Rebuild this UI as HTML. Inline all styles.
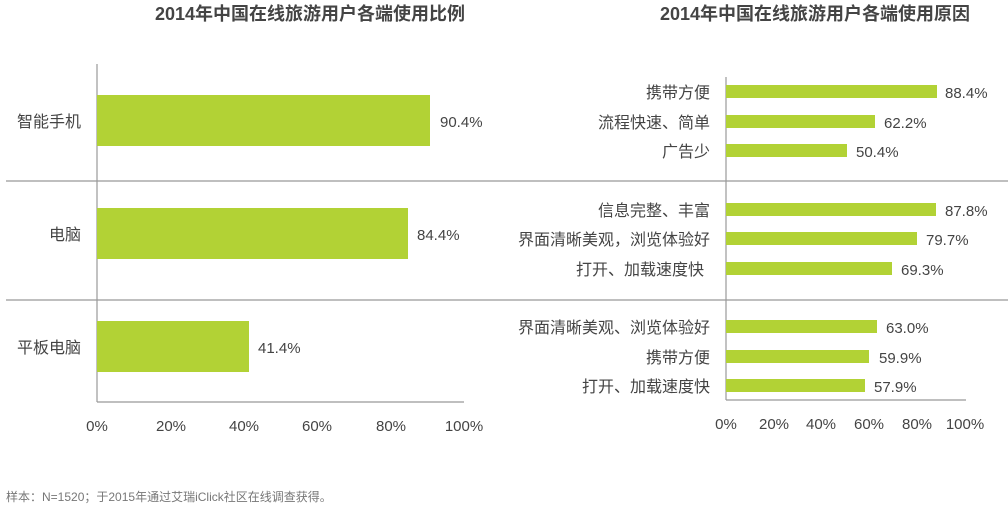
<!DOCTYPE html>
<html><head><meta charset="utf-8"><style>
body{margin:0;background:#fff;}
svg text{font-family:"Liberation Sans","Noto Sans CJK SC",sans-serif;fill:#444;}
</style></head><body>
<svg width="1008" height="511" viewBox="0 0 1008 511" xmlns="http://www.w3.org/2000/svg">
<text x="310" y="20" font-size="18" font-weight="bold" text-anchor="middle">2014年中国在线旅游用户各端使用比例</text>
<text x="815" y="20" font-size="18" font-weight="bold" text-anchor="middle">2014年中国在线旅游用户各端使用原因</text>
<g stroke="#999" stroke-width="1.2">
<line x1="6" y1="181" x2="1008" y2="181"/>
<line x1="6" y1="300" x2="1008" y2="300"/>
<line x1="97" y1="64" x2="97" y2="402"/>
<line x1="97" y1="402" x2="464" y2="402"/>
<line x1="726" y1="77" x2="726" y2="400"/>
<line x1="726" y1="400" x2="966" y2="400"/>
</g>
<g fill="#b2d235">
<rect x="97" y="95" width="333" height="51"/>
<rect x="97" y="208" width="311" height="51"/>
<rect x="97" y="321" width="152" height="51"/>
<rect x="726" y="85" width="211" height="13"/>
<rect x="726" y="115" width="149" height="13"/>
<rect x="726" y="144" width="121" height="13"/>
<rect x="726" y="203" width="210" height="13"/>
<rect x="726" y="232" width="191" height="13"/>
<rect x="726" y="262" width="166" height="13"/>
<rect x="726" y="320" width="151" height="13"/>
<rect x="726" y="350" width="143" height="13"/>
<rect x="726" y="379" width="139" height="13"/>
</g>
<g font-size="16" text-anchor="end">
<text x="81" y="127">智能手机</text>
<text x="81" y="240">电脑</text>
<text x="81" y="353">平板电脑</text>
</g>
<g font-size="15">
<text x="440" y="127">90.4%</text>
<text x="417" y="240">84.4%</text>
<text x="258" y="353">41.4%</text>
</g>
<g font-size="15" text-anchor="middle">
<text x="97" y="431">0%</text><text x="171" y="431">20%</text><text x="244" y="431">40%</text>
<text x="317" y="431">60%</text><text x="391" y="431">80%</text><text x="464" y="431">100%</text>
<text x="726" y="429">0%</text><text x="774" y="429">20%</text><text x="821" y="429">40%</text>
<text x="869" y="429">60%</text><text x="917" y="429">80%</text><text x="965" y="429">100%</text>
</g>
<g font-size="16" text-anchor="end">
<text x="710" y="98">携带方便</text>
<text x="710" y="128">流程快速、简单</text>
<text x="710" y="157">广告少</text>
<text x="710" y="216">信息完整、丰富</text>
<text x="710" y="245">界面清晰美观，浏览体验好</text>
<text x="704" y="275">打开、加载速度快</text>
<text x="710" y="333">界面清晰美观、浏览体验好</text>
<text x="710" y="363">携带方便</text>
<text x="710" y="392">打开、加载速度快</text>
</g>
<g font-size="15">
<text x="945" y="98">88.4%</text>
<text x="884" y="128">62.2%</text>
<text x="856" y="157">50.4%</text>
<text x="945" y="216">87.8%</text>
<text x="926" y="245">79.7%</text>
<text x="901" y="275">69.3%</text>
<text x="886" y="333">63.0%</text>
<text x="879" y="363">59.9%</text>
<text x="874" y="392">57.9%</text>
</g>
<text x="6" y="501" font-size="12" style="fill:#777">样本：N=1520；于2015年通过艾瑞iClick社区在线调查获得。</text>
</svg>
</body></html>
